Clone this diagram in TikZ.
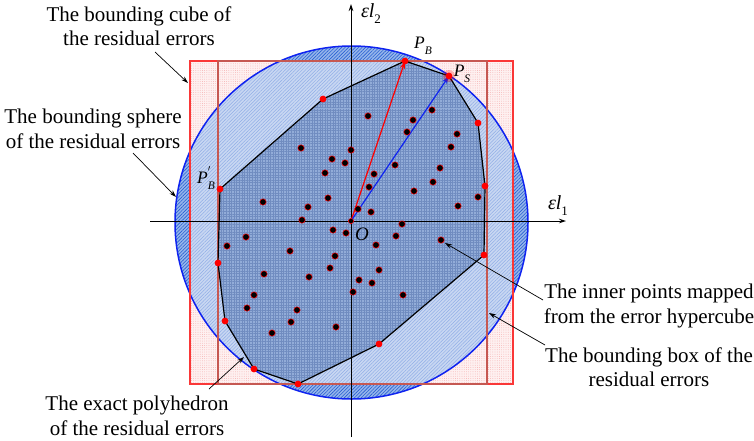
\documentclass[tikz,border=0pt]{standalone}
\usepackage{fontspec}
\setmainfont{Liberation Serif}
\newfontfamily\tnr{Liberation Serif}
\usetikzlibrary{arrows.meta,patterns,patterns.meta}
\definecolor{pinkbg}{RGB}{254,240,240}
\definecolor{pinkd}{RGB}{240,150,150}
\definecolor{cin}{RGB}{200,215,242}
\definecolor{cinh}{RGB}{145,174,230}
\definecolor{cout}{RGB}{150,182,235}
\definecolor{couth}{RGB}{40,95,210}
\definecolor{polyfill}{RGB}{146,172,216}
\definecolor{polygrid}{RGB}{112,140,192}
\definecolor{boxred}{RGB}{198,88,82}
\definecolor{cubered}{RGB}{250,55,55}
\definecolor{cblue}{RGB}{15,35,240}
\newcommand\lsub[1]{\raisebox{-0.32em}{\fontsize{11.5}{11.5}\selectfont\textit{#1}}}
\newcommand\nsub[1]{\raisebox{-0.3em}{\fontsize{13}{13}\selectfont #1}}
\begin{document}
\begin{tikzpicture}[x=1pt,y=-1pt,
  lbl/.style={font=\tnr\fontsize{21}{24.5}\selectfont,align=center,inner sep=0pt},
  mlbl/.style={font=\tnr\fontsize{17.5}{17.5}\selectfont,inner sep=0pt},
  albl/.style={font=\tnr\fontsize{20}{20}\selectfont,inner sep=0pt},
  callout/.style={draw=black,line width=0.7pt,-{Stealth[length=7pt,width=4.5pt]}},
  axisline/.style={draw=black,line width=0.8pt,-{Stealth[length=7pt,width=4.5pt]}},
  vdot/.style={fill=red},
  idot/.style={fill=black,draw=red,line width=0.5pt}]
\useasboundingbox (0,0) rectangle (754,440);

% bounding cube (outer rectangle) fill
\fill[pinkbg] (190,61) rectangle (513,384);
\fill[pattern={Dots[distance=2.2pt,radius=0.35pt]},pattern color=pinkd] (190,61) rectangle (513,384);

% bounding sphere fill (inside rectangle look)
\fill[cin] (351.5,222.5) circle (176.5pt);
\fill[pattern={Lines[angle=45,distance=2.4pt,line width=0.5pt]},pattern color=cinh] (351.5,222.5) circle (176.5pt);
% circle parts outside the rectangle: darker
\begin{scope}
  \clip (351.5,222.5) circle (176.5pt);
  \fill[cout,even odd rule] (351.5,222.5) circle (176.5pt) (190,61) rectangle (513,384);
  \fill[even odd rule,pattern={Lines[angle=45,distance=2.4pt,line width=0.6pt]},pattern color=couth] (351.5,222.5) circle (176.5pt) (190,61) rectangle (513,384);
\end{scope}

% polyhedron vertices
\coordinate (PB) at (405,61);
\coordinate (PS) at (449,76);
\coordinate (v3) at (478,123);
\coordinate (v4) at (485,186);
\coordinate (v5) at (484,255);
\coordinate (v6) at (379,344);
\coordinate (v7) at (298,384);
\coordinate (v8) at (254,369);
\coordinate (v9) at (225,321);
\coordinate (v10) at (218,263);
\coordinate (PBp) at (220,189);
\coordinate (v12) at (323,99);
\coordinate (O) at (351,221);

\fill[polyfill] (PB) -- (PS) -- (v3) -- (v4) -- (v5) -- (v6) -- (v7) -- (v8) -- (v9) -- (v10) -- (PBp) -- (v12) -- cycle;
\fill[pattern={Hatch[angle=0,distance=2.6pt,line width=0.3pt]},pattern color=polygrid] (PB) -- (PS) -- (v3) -- (v4) -- (v5) -- (v6) -- (v7) -- (v8) -- (v9) -- (v10) -- (PBp) -- (v12) -- cycle;

% outlines
\draw[cblue,line width=1.5pt] (351.5,222.5) circle (176.5pt);
\draw[cubered,line width=1.2pt] (190,61) rectangle (513,384);
\draw[boxred,line width=2.2pt] (218,61) rectangle (487,384);

% axes
\coordinate (xs) at (150,221);
\coordinate (xe) at (566,221);
\coordinate (ys) at (351,437);
\coordinate (ye) at (351,4);
\draw[axisline] (xs) -- (xe);
\draw[axisline] (ys) -- (ye);

% polyhedron edges
\draw[black,line width=1.2pt,line join=round] (PB) -- (PS) -- (v3) -- (v4) -- (v5) -- (v6) -- (v7) -- (v8) -- (v9) -- (v10) -- (PBp) -- (v12) -- cycle;

% vectors
\draw[red,line width=1.2pt,-{Stealth[length=8pt,width=5pt]}] (O) -- (PB);
\draw[cblue,line width=1.2pt,-{Stealth[length=8pt,width=5pt]}] (O) -- (PS);

% inner points
\foreach \p in {(368,116),(413,120),(432,110),(407,132),(457,134),(451,147),(301,148),(351,150),
  (332,159),(345,163),(325,173),(374,174),(369,187),(263,202),(328,198),(308,207),(302,220),
  (358,209),(371,212),(333,230),(346,233),(246,237),(227,246),(376,245),(290,251),(335,256),
  (330,268),(264,274),(309,277),(379,270),(359,280),(372,283),(254,295),(353,292),(395,165),
  (440,168),(433,182),(414,191),(478,197),(458,206),(402,224),(396,236),(441,240),(403,295),
  (247,308),(297,310),(291,322),(272,333),(336,327)}
  \filldraw[idot] \p circle (3.2pt);
\filldraw[idot] (O) circle (2.6pt);

% vertex points
\fill[red,opacity=0.25] (PS) circle (6pt);
\foreach \v in {PB,PS,v3,v4,v5,v6,v7,v8,v9,v10,PBp,v12}
  \fill[vdot] (\v) circle (3.4pt);

% math labels
\node[mlbl] (lPB) at (423,46) {\textit{P}\lsub{B}};
\node[mlbl] (lPS) at (462,74) {\textit{P}\lsub{S}};
\node[mlbl] (lPBp) at (206,178) {\textit{P}\makebox[0pt][l]{\raisebox{0.42em}{\fontsize{13}{13}\selectfont$'$}}\lsub{B}};
\node[font=\tnr\fontsize{19}{19}\selectfont,inner sep=0pt] (lO) at (362,234) {\textit{O}};
\node[albl] (le2) at (371,14) {\textit{εl}\nsub{2}};
\node[albl] (le1) at (558,206) {\textit{εl}\nsub{1}};

% text labels
\node[lbl] (tcube) at (139,26) {The bounding cube of\\the residual errors};
\node[lbl] (tsph) at (93,129) {The bounding sphere\\of the residual errors};
\node[lbl] (tin) at (649,306) {The inner points mapped\\from the error hypercube};
\node[lbl] (tbox) at (649,367) {The bounding box of the\\residual errors};
\node[lbl] (tpoly) at (137,416) {The exact polyhedron\\of the residual errors};

% callouts
\coordinate (c1s) at (155,52);  \coordinate (c1e) at (188,83);
\coordinate (c2s) at (133,153); \coordinate (c2e) at (176,197);
\coordinate (c3s) at (543,300); \coordinate (c3e) at (445,243);
\coordinate (c4s) at (545,345); \coordinate (c4e) at (489,313);
\coordinate (c5s) at (209,389); \coordinate (c5e) at (244,357);
\draw[callout] (c1s) -- (c1e);
\draw[callout] (c2s) -- (c2e);
\draw[callout] (c3s) -- (c3e);
\draw[callout] (c4s) -- (c4e);
\draw[callout] (c5s) -- (c5e);
\end{tikzpicture}
\end{document}
